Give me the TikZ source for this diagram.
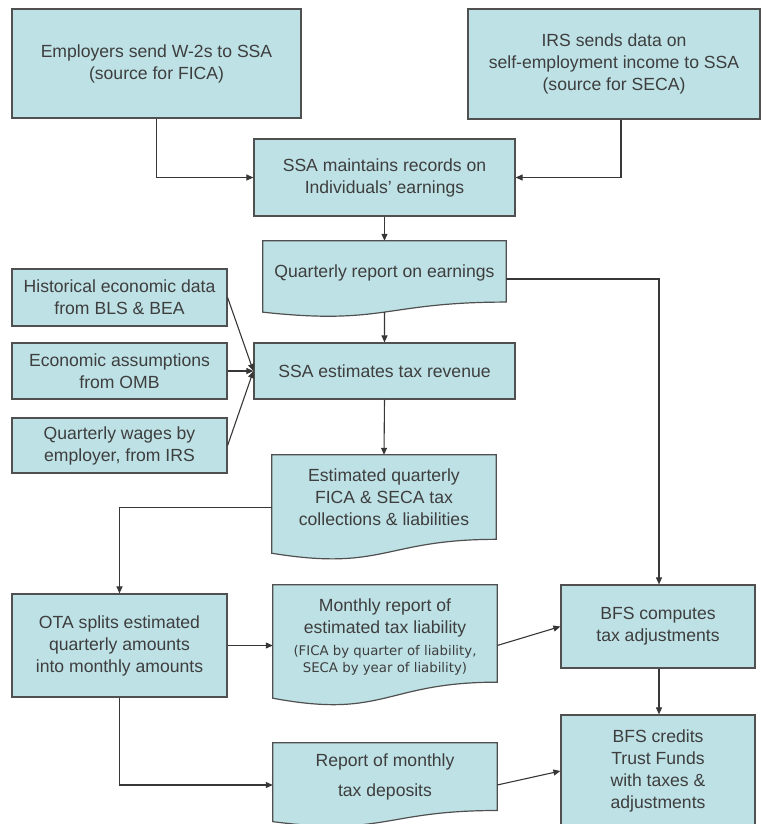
\documentclass[tikz,border=0pt]{standalone}
\usepackage{fontspec}
\setmainfont{Liberation Sans}
\newfontfamily\smallfont{DejaVu Sans}
\usetikzlibrary{arrows.meta,calc}
\pgfdeclarelayer{background}
\pgfsetlayers{background,main}
\definecolor{boxfill}{RGB}{189,225,229}
\definecolor{boxline}{RGB}{80,80,80}
\definecolor{txt}{RGB}{62,62,62}
\definecolor{conn}{RGB}{55,55,55}
\newcommand\docpath[1]{%
  \path[docshape] (#1.north west) -- (#1.north east)
    -- ($(#1.north east)!0.802!(#1.south east)$)
    .. controls ($(#1.north)!0.802!(#1.south)$) and ($(#1.north)!1.1075!(#1.south)$)
    .. ($(#1.north west)!0.934!(#1.south west)$) -- cycle;}
\tikzset{
  mainfont/.style={font=\fontsize{17.6}{22}\selectfont},
  box/.style={draw=boxline, fill=boxfill, line width=1.2pt, rectangle, inner sep=0pt,
    align=center, text=txt, mainfont},
  docarea/.style={rectangle, inner sep=0pt},
  docshape/.style={draw=boxline, fill=boxfill, line width=1.2pt, line join=miter},
  doctext/.style={align=center, text=txt, inner sep=0pt, mainfont},
  smalltext/.style={align=center, text=txt, inner sep=0pt, font=\smallfont\fontsize{13.3}{17}\selectfont},
  arr/.style={draw=conn, line width=1.1pt, -{Triangle[length=7pt,width=6pt]}},
  conline/.style={draw=conn, line width=1.1pt},
}
\begin{document}
\begin{tikzpicture}[x=1pt,y=-1pt]
\clip (0,0) rectangle (762,824);
% plain boxes
\node[box, minimum width=289pt, minimum height=109pt] (emp) at (156.5,63.5) {Employers send W-2s to SSA\\(source for FICA)};
\node[box, minimum width=292pt, minimum height=110pt] (irs) at (614,64) {IRS sends data on\\self-employment income to SSA\\(source for SECA)};
\node[box, minimum width=261pt, minimum height=77pt] (rec) at (384.5,177.5) {SSA maintains records on\\Individuals’ earnings};
\node[box, minimum width=261pt, minimum height=56pt] (est) at (384.5,371) {SSA estimates tax revenue};
\node[box, minimum width=215pt, minimum height=57pt] (hist) at (119.5,297.5) {Historical economic data\\from BLS \& BEA};
\node[box, minimum width=215pt, minimum height=56pt] (econ) at (119.5,371) {Economic assumptions\\from OMB};
\node[box, minimum width=215pt, minimum height=55pt] (wages) at (119.5,445.5) {Quarterly wages by\\employer, from IRS};
\node[box, minimum width=215pt, minimum height=103pt] (ota) at (119.5,645.5) {OTA splits estimated\\quarterly amounts\\into monthly amounts};
\node[box, minimum width=194pt, minimum height=83pt] (bfsc) at (658,626.5) {BFS computes\\tax adjustments};
\node[box, minimum width=194pt, minimum height=112pt] (bfscr) at (658,771) {BFS credits\\Trust Funds\\with taxes \&\\adjustments};
% document shapes
\node[docarea, minimum width=243pt, minimum height=76pt] (qrep) at (384.5,279) {};
\node[docarea, minimum width=224pt, minimum height=105pt] (estdoc) at (384,507.5) {};
\node[docarea, minimum width=224pt, minimum height=121pt] (mdoc) at (385,645.5) {};
\node[docarea, minimum width=224pt, minimum height=84pt] (rdoc) at (385,785) {};
\begin{pgfonlayer}{background}
\docpath{qrep}
\docpath{estdoc}
\docpath{mdoc}
\docpath{rdoc}
\end{pgfonlayer}
\node[doctext] (qrepT) at (384.5,273) {Quarterly report on earnings};
\node[doctext] (estdocT) at (384,497) {Estimated quarterly\\FICA \& SECA tax\\collections \& liabilities};
\node[doctext] (mdocT) at (385,618) {Monthly report of\\estimated tax liability};
\node[smalltext] (mdocS) at (385,660) {(FICA by quarter of liability,\\SECA by year of liability)};
\node[doctext] (rdocT) at (385,777) {Report of monthly\\[8pt]tax deposits};
% connectors
\draw[arr] (emp.south) |- (rec.west);
\draw[arr] ([xshift=7pt]irs.south) |- (rec.east);
\draw[arr] (rec.south) -- (qrep.north);
\draw[arr] ($(qrep.north)!0.933!(qrep.south)$) -- (est.north);
\draw[arr] (qrep.east) -| ([xshift=1pt]bfsc.north);
\draw[arr] (hist.east) -- (est.west);
\draw[arr] (econ.east) -- (est.west);
\draw[arr] (wages.east) -- (est.west);
\draw[arr] (est.south) -- (estdoc.north);
\draw[arr] (estdoc.west) -| (ota.north);
\draw[arr] (ota.east) -- (mdoc.west);
\draw[arr] (mdoc.east) -- (bfsc.west);
\draw[arr] ([xshift=1pt]bfsc.south) -- ([xshift=1pt]bfscr.north);
\draw[arr] (ota.south) |- (rdoc.west);
\draw[arr] (rdoc.east) -- (bfscr.west);
\end{tikzpicture}
\end{document}
